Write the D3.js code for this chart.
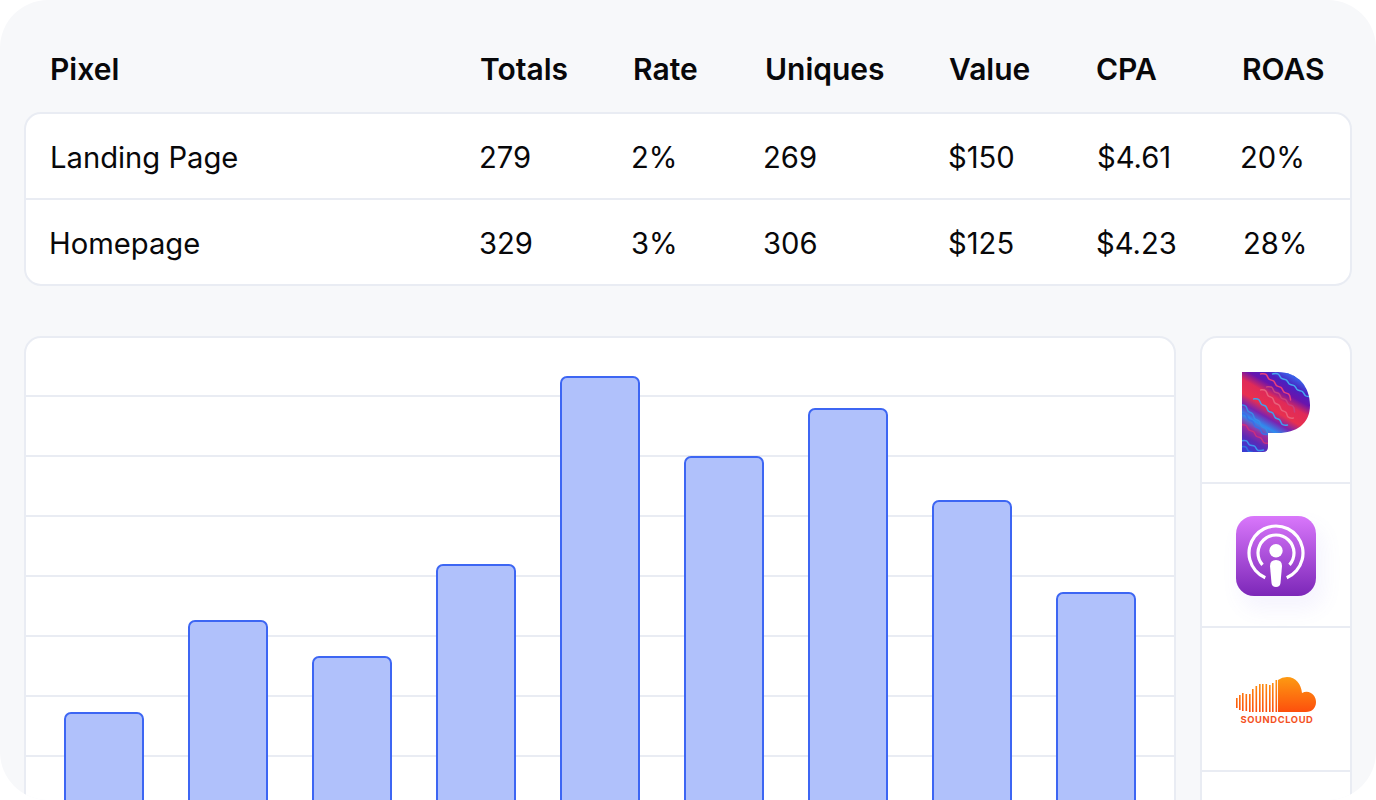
<!DOCTYPE html>
<html>
<head>
<meta charset="utf-8">
<script src="https://cdnjs.cloudflare.com/ajax/libs/d3/7.8.5/d3.min.js"></script>
<style>
  html, body { margin: 0; padding: 0; background: #fff; overflow: hidden; }
  svg { display: block; font-family: "Inter", sans-serif; }
</style>
</head>
<body>
<div id="vis"></div>
<script>
const WIDTH = 1376;
const HEIGHT = 800;

// tabla
const headers = ["Pixel", "Totals", "Rate", "Uniques", "Value", "CPA", "ROAS"];
const landingRow = ["Landing Page", "279", "2%", "269", "$150", "$4.61", "20%"];
const homepageRow = ["Homepage", "329", "3%", "306", "$125", "$4.23", "28%"];

// barras
const barCategories = ["a", "b", "c", "d", "e", "f", "g", "h", "i"];
const barValues = [26, 49, 40, 63, 110, 90, 102, 79, 56];
const gridValues = [15, 30, 45, 60, 75, 90, 105];

// columnas
const headerX = [50, 480, 633, 765, 949, 1096, 1242];
const landingX = [50, 479, 631, 763, 948, 1097, 1240];
const homepageX = [49, 479, 631, 763, 948, 1096, 1243];

const LINE = "#e9ecf3";
const svg0 = d3.select("#vis").append("svg").attr("width", WIDTH).attr("height", HEIGHT);
const defs = svg0.append("defs");

// todo va recortado por la esquina redonda de afuera
defs.append("clipPath").attr("id", "outer").append("rect")
    .attr("width", WIDTH).attr("height", HEIGHT).attr("rx", 48);
const svg = svg0.append("g").attr("clip-path", "url(#outer)");

svg.append("rect").attr("width", WIDTH).attr("height", HEIGHT).attr("fill", "#f7f8fa");

function card(x, y, w, h, r) {
    svg.append("rect")
        .attr("x", x).attr("y", y).attr("width", w).attr("height", h).attr("rx", r)
        .attr("fill", "#fff").attr("stroke", LINE).attr("stroke-width", 2);
}

function hLine(x1, x2, y) {
    svg.append("line")
        .attr("x1", x1).attr("x2", x2).attr("y1", y).attr("y2", y)
        .attr("stroke", LINE).attr("stroke-width", 2);
}

function textRow(labels, xs, y, size, weight) {
    svg.append("g").selectAll("text").data(labels).join("text")
        .attr("x", (d, i) => xs[i])
        .attr("y", y)
        .attr("font-size", size)
        .attr("font-weight", weight)
        .attr("fill", "#08080a")
        .text(d => d);
}

// tabla
card(25, 113, 1326, 172, 16);
hLine(26, 1350, 199);
textRow(headers, headerX, 80, 30, 600);
textRow(landingRow, landingX, 168, 29.2, 400);
textRow(homepageRow, homepageX, 254, 29.2, 400);

// grafico
card(25, 337, 1150, 500, 16);

const x = d3.scaleBand().domain(barCategories).range([42, 1158]).paddingInner(46 / 124).paddingOuter(23 / 124);
const y = d3.scaleLinear().domain([0, 110]).range([817, 377]);

svg.append("g").selectAll("line").data(gridValues).join("line")
    .attr("x1", 26).attr("x2", 1174)
    .attr("y1", d => y(d) - 1)
    .attr("y2", d => y(d) - 1)
    .attr("stroke", LINE).attr("stroke-width", 2);

svg.append("g").selectAll("rect").data(barValues).join("rect")
    .attr("x", (d, i) => x(barCategories[i]))
    .attr("y", d => y(d))
    .attr("width", x.bandwidth())
    .attr("height", d => y(0) - y(d) + 20)
    .attr("rx", 6)
    .attr("fill", "#b0c1fb")
    .attr("stroke", "#3d66f3")
    .attr("stroke-width", 2);

// logos
card(1201, 337, 150, 500, 16);
hLine(1202, 1350, 483);
hLine(1202, 1350, 627);
hLine(1202, 1350, 771);

// pandora
const pGrad = defs.append("linearGradient").attr("id", "pBase").attr("gradientUnits", "userSpaceOnUse")
    .attr("x1", 1250).attr("y1", 452).attr("x2", 1295).attr("y2", 372);
[[0, "#3b3ad2"], [0.12, "#5a2ab8"], [0.22, "#a02a9a"], [0.32, "#2e8df0"], [0.42, "#7a22b0"], [0.52, "#e8304f"],
 [0.65, "#e02a58"], [0.75, "#6a14ac"], [0.85, "#4a20c0"], [0.95, "#3a60e8"]]
    .forEach(s => pGrad.append("stop").attr("offset", s[0]).attr("stop-color", s[1]));

defs.append("clipPath").attr("id", "pClip").append("path")
    .attr("d", "M1242 372 H1278 C1298 372 1310 387 1310 405 C1310 424 1296 433 1278 433 H1268 V447 Q1268 452 1263 452 H1242 Z");

const pandora = svg.append("g").attr("clip-path", "url(#pClip)");
pandora.append("rect").attr("x", 1242).attr("y", 372).attr("width", 68).attr("height", 80).attr("fill", "url(#pBase)");

// ondas diagonales del logo
const waveLine = d3.line().curve(d3.curveBasis);
function wave(x0, y0, x1, y1) {
    const steps = Math.round(Math.hypot(x1 - x0, y1 - y0) / 5);
    const pts = d3.range(steps + 1).map(i => {
        const t = i / steps, off = i % 2 ? 2.4 : -2.4;
        return [x0 + (x1 - x0) * t + off * 0.6, y0 + (y1 - y0) * t - off * 0.8];
    });
    return waveLine(pts);
}
const waves = [
    [1262, 372, 1292, 398, "#e8407a"], [1274, 372, 1310, 398, "#45a5ee"], [1288, 372, 1310, 388, "#3a5ee8"],
    [1262, 388, 1292, 420, "#e8607a"], [1268, 385, 1296, 410, "#c8407f"],
    [1255, 397, 1286, 427, "#3fa0ee"], [1242, 403, 1272, 437, "#3a8ae8"], [1242, 412, 1266, 436, "#3a6ee8"],
    [1242, 423, 1268, 445, "#c8307f"], [1242, 439, 1262, 452, "#3f90ee"], [1242, 445, 1256, 456, "#2f6fe0"]
];
pandora.append("g").selectAll("path").data(waves).join("path")
    .attr("d", d => wave(d[0], d[1], d[2], d[3]))
    .attr("fill", "none").attr("stroke", d => d[4]).attr("stroke-width", 1.5).attr("stroke-linecap", "round");

// podcasts
const podGrad = defs.append("linearGradient").attr("id", "podBase").attr("x1", 0).attr("y1", 0).attr("x2", 0).attr("y2", 1);
podGrad.append("stop").attr("offset", 0).attr("stop-color", "#d977fb");
podGrad.append("stop").attr("offset", 1).attr("stop-color", "#7c27b8");
const blur = defs.append("filter").attr("id", "podShadow").attr("x", "-50%").attr("y", "-50%").attr("width", "200%").attr("height", "200%");
blur.append("feGaussianBlur").attr("stdDeviation", 10);
svg.append("rect").attr("x", 1240).attr("y", 526).attr("width", 84).attr("height", 84).attr("rx", 20)
    .attr("fill", "#7c6cf0").attr("opacity", 0.07).attr("filter", "url(#podShadow)");
svg.append("rect").attr("x", 1236).attr("y", 516).attr("width", 80).attr("height", 80).attr("rx", 18).attr("fill", "url(#podBase)");

const pod = svg.append("g").attr("transform", "translate(1276,553)");
[[27, 0.87], [18, 0.73]].forEach(r => {
    pod.append("path")
        .attr("d", d3.arc().innerRadius(r[0] - 1.6).outerRadius(r[0] + 1.6)
            .startAngle(-Math.PI * r[1]).endAngle(Math.PI * r[1])())
        .attr("fill", "#fff");
});
pod.append("circle").attr("cy", -2.3).attr("r", 6.7).attr("fill", "#fff");
pod.append("path").attr("d", "M-6 13 Q-6 7 0 7 Q6 7 6 13 L4.5 30 Q4 34 0 34 Q-4 34 -4.5 30 Z").attr("fill", "#fff");

// soundcloud
const scGrad = defs.append("linearGradient").attr("id", "scBase").attr("gradientUnits", "userSpaceOnUse")
    .attr("x1", 0).attr("y1", 677).attr("x2", 0).attr("y2", 712);
scGrad.append("stop").attr("offset", 0).attr("stop-color", "#fd9a12");
scGrad.append("stop").attr("offset", 1).attr("stop-color", "#fd4f0d");
svg.append("path")
    .attr("d", "M1278 712 V680 Q1282 677 1287 677 C1296 677 1301 684 1302 693 C1310 689 1316 696 1316 702 C1316 708 1312 712 1306 712 Z")
    .attr("fill", "url(#scBase)");
const scBars = [[1236, 698, 708], [1239, 695, 710], [1242, 693, 711], [1245.5, 694, 711], [1249, 694, 712], [1252, 689, 712], [1255.5, 686, 712], [1259, 684, 712], [1262, 684, 712], [1265.5, 684, 712], [1269, 685, 712], [1272, 683, 712], [1275.5, 680, 712]];
svg.append("g").selectAll("rect").data(scBars).join("rect")
    .attr("x", d => d[0]).attr("y", d => d[1]).attr("width", 1.6).attr("height", d => d[2] - d[1])
    .attr("fill", "url(#scBase)");
svg.append("text").attr("x", 1240.5).attr("y", 722.5).attr("font-size", 9.4).attr("font-weight", 700)
    .attr("letter-spacing", 0.6).attr("fill", "#f4511e").text("SOUNDCLOUD");
</script>
</body>
</html>
